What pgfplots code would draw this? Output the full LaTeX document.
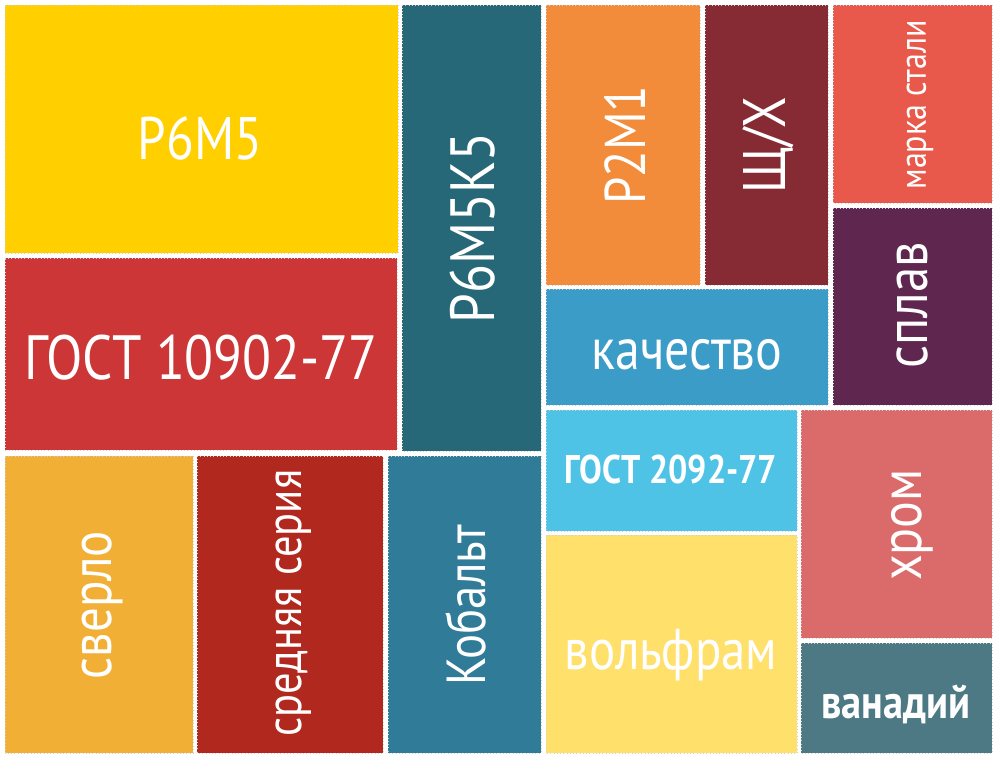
\documentclass[border=0pt]{standalone}
\usepackage{pgfplots}
\pgfplotsset{compat=1.18}
\usepackage{fontspec}
\setmainfont{PT Sans}[FakeStretch=0.85]

\definecolor{cP6M5}{HTML}{FFCF00}
\definecolor{cGOST1}{HTML}{CC3636}
\definecolor{cP6M5K5}{HTML}{266878}
\definecolor{cP2M1}{HTML}{F28C3A}
\definecolor{cShch}{HTML}{862B34}
\definecolor{cMarka}{HTML}{E8594B}
\definecolor{cSplav}{HTML}{5F2650}
\definecolor{cKach}{HTML}{3B9CC8}
\definecolor{cGOST2}{HTML}{4EC3E6}
\definecolor{cKhrom}{HTML}{DB6B6B}
\definecolor{cVanad}{HTML}{4C7983}
\definecolor{cVolf}{HTML}{FFE06B}
\definecolor{cSverlo}{HTML}{F2AF35}
\definecolor{cSred}{HTML}{B1281F}
\definecolor{cKobalt}{HTML}{2F7B98}

% tile: fill colour, x0, x1, y0, y1 (pixel units, y downwards)
\newcommand{\tile}[5]{%
  \addplot[fill=#1, draw=black!18, densely dotted, line width=0.3pt]
    coordinates {(#2,#4) (#3,#4) (#3,#5) (#2,#5)} -- cycle;}

\tikzset{lbl/.style={text=white, inner sep=0pt, font=\fontsize{#1}{#1}\selectfont}}

\begin{document}
\begin{tikzpicture}
\begin{axis}[
    x=0.4pt, y=0.4pt,
    xmin=0, xmax=1000, ymin=0, ymax=761,
    y dir=reverse,
    hide axis,
    clip=false,
]
\addplot[fill=white, draw=none] coordinates {(0,0) (1000,0) (1000,761) (0,761)} -- cycle;

\tile{cP6M5}{5}{398}{5}{253}
\tile{cGOST1}{5}{397}{258}{450}
\tile{cSverlo}{5}{193}{456}{753}
\tile{cSred}{197}{383}{456}{753}
\tile{cKobalt}{388}{541}{456}{753}
\tile{cP6M5K5}{402}{541}{5}{451}
\tile{cP2M1}{546}{700}{5}{285}
\tile{cShch}{705}{828}{5}{285}
\tile{cMarka}{833}{992}{5}{203}
\tile{cSplav}{833}{992}{208}{405}
\tile{cKach}{546}{828}{289}{405}
\tile{cGOST2}{546}{797}{410}{531}
\tile{cVolf}{546}{797}{535}{753}
\tile{cKhrom}{801}{992}{410}{638}
\tile{cVanad}{801}{992}{643}{753}

\node[lbl=24] at (axis cs:200,138) {P6M5};
\node[lbl=25] at (axis cs:201,358) {ГОСТ 10902-77};
\node[lbl=25, rotate=90] at (axis cs:473,228) {P6M5K5};
\node[lbl=23, rotate=90] at (axis cs:625,145) {P2M1};
\node[lbl=24, rotate=90] at (axis cs:768,145) {Щ/Х};
\node[lbl=15, rotate=90] at (axis cs:920,105) {марка стали};
\node[lbl=24, rotate=90] at (axis cs:912,305) {сплав};
\node[lbl=23.5] at (axis cs:687,355) {качество};
\node[lbl=16, font=\bfseries\fontsize{16}{16}\selectfont] at (axis cs:671,470) {ГОСТ 2092-77};
\node[lbl=23] at (axis cs:671,655) {вольфрам};
\node[lbl=23.5, rotate=90] at (axis cs:912,525) {хром};
\node[lbl=19, font=\bfseries\fontsize{19}{19}\selectfont] at (axis cs:896,704) {ванадий};
\node[lbl=23, rotate=90] at (axis cs:103,605) {сверло};
\node[lbl=20, rotate=90] at (axis cs:294,603) {средняя серия};
\node[lbl=22, rotate=90] at (axis cs:466,605) {Кобальт};
\end{axis}
\end{tikzpicture}
\end{document}
